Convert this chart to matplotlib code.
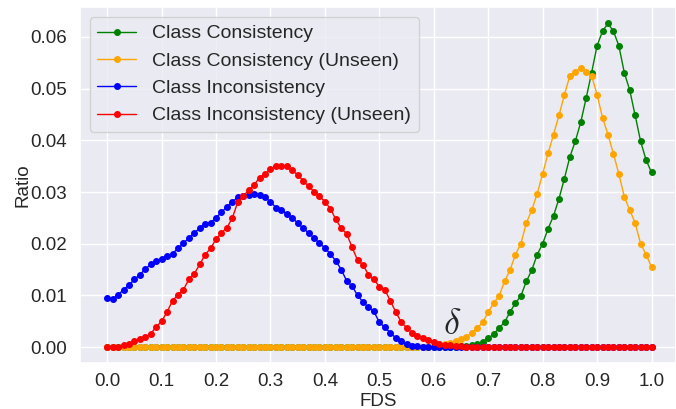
import numpy as np
import matplotlib
matplotlib.use('Agg')
import matplotlib.pyplot as plt
import seaborn as sns

# FDS grid, step 0.01
fds = np.round(np.arange(0, 101) * 0.01, 2)

class_consistency = [
    0.0, 0.0, 0.0, 0.0, 0.0, 0.0, 0.0, 0.0, 0.0, 0.0,
    0.0, 0.0, 0.0, 0.0, 0.0, 0.0, 0.0, 0.0, 0.0, 0.0,
    0.0, 0.0, 0.0, 0.0, 0.0, 0.0, 0.0, 0.0, 0.0, 0.0,
    0.0, 0.0, 0.0, 0.0, 0.0, 0.0, 0.0, 0.0, 0.0, 0.0,
    0.0, 0.0, 0.0, 0.0, 0.0, 0.0, 0.0, 0.0, 0.0, 0.0,
    0.0, 0.0, 0.0, 0.0, 0.0, 0.0, 0.0, 0.0, 0.0, 0.0,
    0.0, 0.0, 0.0, 0.0, 0.0001, 0.0002, 0.0003, 0.0005, 0.0007, 0.0010,
    0.0017, 0.0025, 0.0037, 0.0048, 0.0068, 0.0085, 0.0099, 0.0127, 0.0149, 0.0179,
    0.0200, 0.0229, 0.0254, 0.0287, 0.0326, 0.0368, 0.0398, 0.0435, 0.0482, 0.0531,
    0.0583, 0.0611, 0.0626, 0.0611, 0.0583, 0.0531, 0.0497, 0.0448, 0.0398, 0.0362,
    0.0338,
]

class_consistency_unseen = [
    0.0, 0.0, 0.0, 0.0, 0.0, 0.0, 0.0, 0.0, 0.0, 0.0,
    0.0, 0.0, 0.0, 0.0, 0.0, 0.0, 0.0, 0.0, 0.0, 0.0,
    0.0, 0.0, 0.0, 0.0, 0.0, 0.0, 0.0, 0.0, 0.0, 0.0,
    0.0, 0.0, 0.0, 0.0, 0.0, 0.0, 0.0, 0.0, 0.0, 0.0,
    0.0, 0.0, 0.0, 0.0, 0.0, 0.0, 0.0, 0.0, 0.0, 0.0,
    0.0, 0.0, 0.0, 0.0, 0.0, 0.0, 0.0, 0.0, 0.0, 0.0001,
    0.0002, 0.0004, 0.0006, 0.0008, 0.0011, 0.0015, 0.0020, 0.0028, 0.0037, 0.0048,
    0.0068, 0.0085, 0.0099, 0.0127, 0.0149, 0.0179, 0.0200, 0.0240, 0.0265, 0.0297,
    0.0335, 0.0375, 0.0411, 0.0448, 0.0488, 0.0525, 0.0533, 0.0540, 0.0532, 0.0525,
    0.0488, 0.0444, 0.0411, 0.0374, 0.0335, 0.0291, 0.0265, 0.0240, 0.0200, 0.0179,
    0.0155,
]

class_inconsistency = [
    0.0095, 0.0093, 0.0101, 0.0111, 0.0120, 0.0131, 0.0140, 0.0151, 0.0160, 0.0166,
    0.0171, 0.0176, 0.0181, 0.0191, 0.0201, 0.0211, 0.0221, 0.0230, 0.0239, 0.0241,
    0.0250, 0.0261, 0.0271, 0.0281, 0.0290, 0.0293, 0.0295, 0.0297, 0.0295, 0.0290,
    0.0281, 0.0270, 0.0265, 0.0258, 0.0250, 0.0240, 0.0230, 0.0221, 0.0211, 0.0201,
    0.0192, 0.0180, 0.0167, 0.0150, 0.0128, 0.0118, 0.0100, 0.0087, 0.0077, 0.0069,
    0.0048, 0.0038, 0.0028, 0.0018, 0.0011, 0.0006, 0.0003, 0.0002, 0.0001, 0.0001,
    0.0, 0.0, 0.0, 0.0, 0.0, 0.0, 0.0, 0.0, 0.0, 0.0,
    0.0, 0.0, 0.0, 0.0, 0.0, 0.0, 0.0, 0.0, 0.0, 0.0,
    0.0, 0.0, 0.0, 0.0, 0.0, 0.0, 0.0, 0.0, 0.0, 0.0,
    0.0, 0.0, 0.0, 0.0, 0.0, 0.0, 0.0, 0.0, 0.0, 0.0,
    0.0,
]

class_inconsistency_unseen = [
    0.0, 0.0, 0.0, 0.0004, 0.0007, 0.0012, 0.0015, 0.0019, 0.0026, 0.0039,
    0.0050, 0.0068, 0.0090, 0.0101, 0.0111, 0.0131, 0.0142, 0.0160, 0.0179, 0.0191,
    0.0209, 0.0221, 0.0231, 0.0250, 0.0281, 0.0292, 0.0304, 0.0314, 0.0328, 0.0335,
    0.0344, 0.0351, 0.0351, 0.0350, 0.0342, 0.0333, 0.0322, 0.0311, 0.0301, 0.0292,
    0.0281, 0.0268, 0.0247, 0.0230, 0.0219, 0.0193, 0.0168, 0.0159, 0.0140, 0.0131,
    0.0117, 0.0111, 0.0090, 0.0068, 0.0049, 0.0037, 0.0028, 0.0022, 0.0018, 0.0014,
    0.0010, 0.0007, 0.0005, 0.0004, 0.0003, 0.0002, 0.0001, 0.0001, 0.0, 0.0,
    0.0, 0.0, 0.0, 0.0, 0.0, 0.0, 0.0, 0.0, 0.0, 0.0,
    0.0, 0.0, 0.0, 0.0, 0.0, 0.0, 0.0, 0.0, 0.0, 0.0,
    0.0, 0.0, 0.0, 0.0, 0.0, 0.0, 0.0, 0.0, 0.0, 0.0,
    0.0,
]

xticks = [0.0, 0.1, 0.2, 0.3, 0.4, 0.5, 0.6, 0.7, 0.8, 0.9, 1.0]


def main():
    sns.set_theme(style='darkgrid')
    plt.rcParams['font.family'] = ['Liberation Sans', 'DejaVu Sans']
    plt.rcParams['mathtext.fontset'] = 'cm'

    fig = plt.figure(figsize=(6.76, 4.09), dpi=100)
    ax = fig.add_axes([0.1183, 0.1117, 0.8817, 0.8705])

    series = [
        (class_consistency, 'green', 'Class Consistency'),
        (class_consistency_unseen, 'orange', 'Class Consistency (Unseen)'),
        (class_inconsistency, 'blue', 'Class Inconsistency'),
        (class_inconsistency_unseen, 'red', 'Class Inconsistency (Unseen)'),
    ]
    for vals, color, label in series:
        ax.plot(fds, vals, color=color, marker='o', markersize=4,
                linewidth=1, label=label)

    ax.set_xlim(-0.05, 1.045)
    ax.set_xticks(xticks)
    ax.set_xticklabels([f'{t:.1f}' for t in xticks])
    ax.tick_params(labelsize=13.5)
    ax.tick_params(axis='x', pad=1)
    ax.set_xlabel('FDS', fontsize=13.5, labelpad=2)
    ax.set_ylabel('Ratio', fontsize=13.5, labelpad=-1)

    ax.text(0.633, 0.0043, r'$\delta$', fontsize=26, ha='center', va='center')

    ax.legend(loc='upper left', fontsize=14)

    fig.savefig('out.png', dpi=100)
    plt.close(fig)


if __name__ == "__main__":
    main()
